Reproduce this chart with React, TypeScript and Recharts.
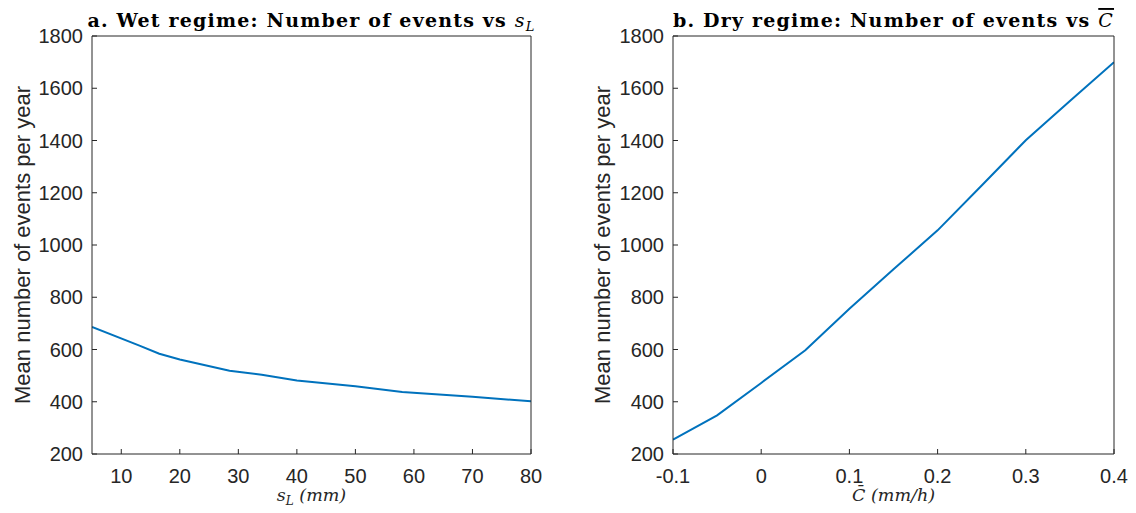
import { LineChart, Line, XAxis, YAxis } from 'recharts'

// wet regime: mean events per year against s_L (mm)
const wetSL = [5, 13, 16.5, 20, 28.5, 34, 40, 50, 58, 70, 80]
const wetEvents = [686, 616, 584, 562, 519, 503, 481, 459, 437, 419, 402]

// dry regime: mean events per year against C-bar (mm/h)
const dryC = [-0.1, -0.05, 0, 0.05, 0.1, 0.15, 0.2, 0.25, 0.3, 0.35, 0.4]
const dryEvents = [255, 348, 472, 597, 756, 907, 1056, 1228, 1401, 1551, 1700]

const wetTicks = [10, 20, 30, 40, 50, 60, 70, 80]
const dryTicks = [-0.1, 0, 0.1, 0.2, 0.3, 0.4]
const eventTicks = [200, 400, 600, 800, 1000, 1200, 1400, 1600, 1800]

const wetData = wetSL.map((x, i) => ({ x, y: wetEvents[i] }))
const dryData = dryC.map((x, i) => ({ x, y: dryEvents[i] }))

const INK = '#262626'
const BLUE = '#0072BD'
const SANS = '"Liberation Sans", Arial, Helvetica, sans-serif'
const SERIF = '"DejaVu Serif", "Liberation Serif", serif'

const tickStyle = { fontSize: 20, fill: INK, fontFamily: SANS }

function yLabel(p: any) {
  const vb = p.viewBox || { x: 0, y: 36, width: 92, height: 418 }
  const cx = vb.x + 29.5
  const cy = vb.y + vb.height / 2
  return (
    <text
      x={cx}
      y={cy}
      transform={`rotate(-90 ${cx} ${cy})`}
      textAnchor="middle"
      fontFamily={SANS}
      fontSize={22}
      fill={INK}
    >
      Mean number of events per year
    </text>
  )
}

function makeTitle(prefix: string, sym: 'sL' | 'C') {
  return (p: any) => {
    const vb = p.viewBox || { x: 0, y: 35, width: 440, height: 1 }
    return (
      <text
        x={vb.x + vb.width / 2}
        y={vb.y - 8}
        textAnchor="middle"
        fontFamily={SERIF}
        fontWeight="bold"
        fontSize={19}
        letterSpacing={1.2}
        fill="#000"
      >
        {prefix}
        {sym === 'sL' ? (
          <>
            <tspan fontStyle="italic" fontWeight="normal">s</tspan>
            <tspan fontStyle="italic" fontWeight="normal" fontSize={13} dy={4}>L</tspan>
          </>
        ) : (
          <tspan fontStyle="italic" fontWeight="normal" textDecoration="overline">C</tspan>
        )}
      </text>
    )
  }
}

function makeXLabel(sym: 'sL' | 'C') {
  return (p: any) => {
    const vb = p.viewBox || { x: 0, y: 454, width: 440, height: 59 }
    return (
      <text
        x={vb.x + vb.width / 2}
        y={vb.y + 47}
        textAnchor="middle"
        fontFamily={SERIF}
        fontStyle="italic"
        fontSize={17.5}
        fill={INK}
      >
        {sym === 'sL' ? (
          <>
            <tspan>s</tspan>
            <tspan fontSize={12} dy={4}>L</tspan>
            <tspan dy={-4}>{'  (mm)'}</tspan>
          </>
        ) : (
          <tspan>{'C\u0304  (mm/h)'}</tspan>
        )}
      </text>
    )
  }
}

function Panel({
  data,
  domain,
  ticks,
  sym,
  title,
  width,
  yWidth,
  right
}: {
  data: { x: number; y: number }[]
  domain: [number, number]
  ticks: number[]
  sym: 'sL' | 'C'
  title: string
  width: number
  yWidth: number
  right: number
}) {
  return (
    <LineChart
      width={width}
      height={513}
      data={data}
      margin={{ top: 35, right, bottom: 0, left: 0 }}
    >
      <XAxis
        dataKey="x"
        type="number"
        domain={domain}
        ticks={ticks}
        interval={0}
        allowDataOverflow
        height={59}
        tick={tickStyle}
        tickSize={-5}
        tickMargin={20}
        axisLine={{ stroke: INK }}
        tickLine={{ stroke: INK }}
        label={makeXLabel(sym)}
      />
      {/* top frame edge, 1px tall so it still draws */}
      <XAxis
        xAxisId="top"
        orientation="top"
        dataKey="x"
        type="number"
        domain={domain}
        ticks={ticks}
        interval={0}
        allowDataOverflow
        height={1}
        tick={false}
        tickSize={-5}
        axisLine={{ stroke: INK }}
        tickLine={{ stroke: INK }}
        label={makeTitle(title, sym)}
      />
      <YAxis
        type="number"
        domain={[200, 1800]}
        ticks={eventTicks}
        interval={0}
        allowDataOverflow
        width={yWidth}
        tick={tickStyle}
        tickSize={-5}
        tickMargin={14}
        axisLine={{ stroke: INK }}
        tickLine={{ stroke: INK }}
        label={yLabel}
      />
      {/* right frame edge */}
      <YAxis
        yAxisId="right"
        orientation="right"
        type="number"
        domain={[200, 1800]}
        ticks={eventTicks}
        interval={0}
        allowDataOverflow
        width={1}
        tick={false}
        tickSize={-5}
        axisLine={{ stroke: INK }}
        tickLine={{ stroke: INK }}
      />
      <Line
        xAxisId="top"
        yAxisId="right"
        type="linear"
        dataKey="y"
        stroke="none"
        dot={false}
        activeDot={false}
        isAnimationActive={false}
      />
      <Line
        type="linear"
        dataKey="y"
        stroke={BLUE}
        strokeWidth={2}
        dot={false}
        isAnimationActive={false}
      />
    </LineChart>
  )
}

export default function App() {
  return (
    <div
      style={{
        position: 'absolute',
        left: 0,
        top: 0,
        width: 1136,
        height: 513,
        background: '#fff'
      }}
    >
      <div style={{ position: 'absolute', left: 0, top: 0 }}>
        <Panel
          data={wetData}
          domain={[5, 80]}
          ticks={wetTicks}
          sym="sL"
          title="a. Wet regime: Number of events vs "
          width={560}
          yWidth={92}
          right={28}
        />
      </div>
      <div style={{ position: 'absolute', left: 580, top: 0 }}>
        <Panel
          data={dryData}
          domain={[-0.1, 0.4]}
          ticks={dryTicks}
          sym="C"
          title="b. Dry regime: Number of events vs "
          width={556}
          yWidth={93}
          right={21}
        />
      </div>
    </div>
  )
}
